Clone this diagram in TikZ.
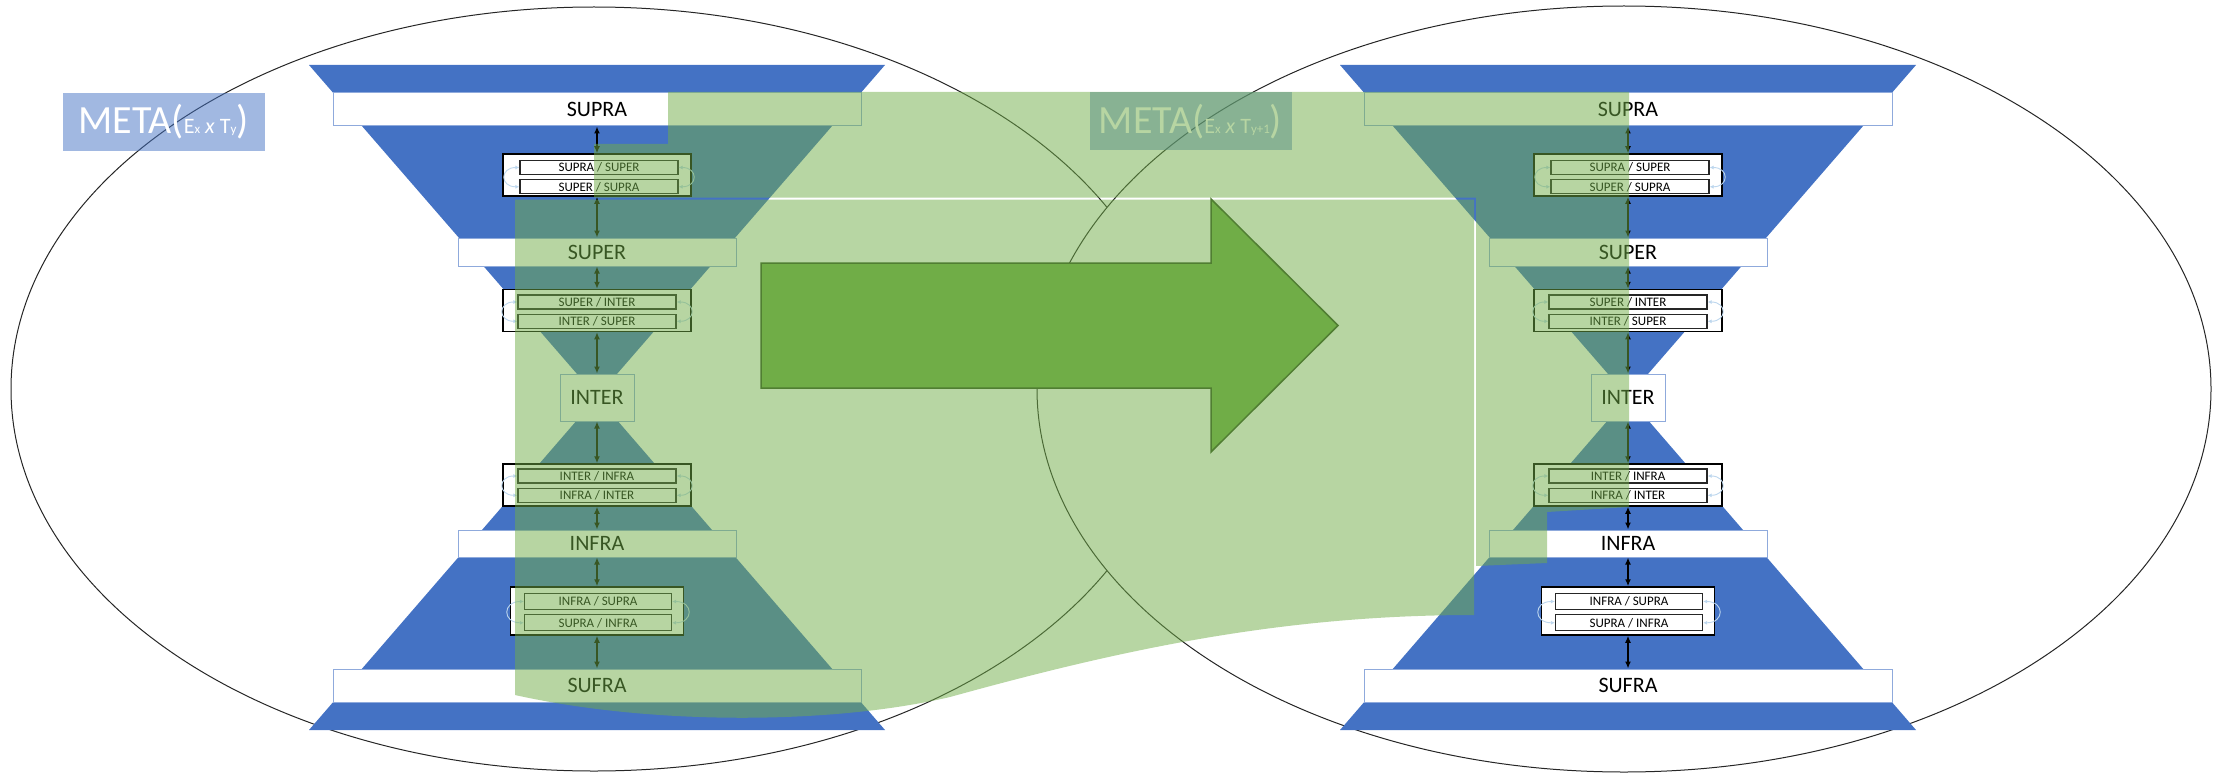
\documentclass[tikz,border=0pt]{standalone}
\usepackage{fontspec}
\setmainfont{Carlito}
\usepackage{tikz}
\usetikzlibrary{arrows.meta, positioning}

\definecolor{layerblue}{HTML}{4472C4}
\definecolor{barline}{HTML}{8FAADC}
\definecolor{metagreen}{HTML}{70AD47}
\definecolor{arrowline}{HTML}{507E32}
\definecolor{swaparc}{HTML}{BDD7EE}

\begin{document}
\begin{tikzpicture}[x=1pt, y=-1pt, >={Latex[length=7pt,width=6pt]}, line width=1.2pt]
    % Define styles locally
    \tikzstyle{bar} = [rectangle, draw=barline, fill=white, line width=1pt, inner sep=0pt, font=\fontsize{22}{24}\selectfont]
    \tikzstyle{iface} = [rectangle, draw=black, fill=white, line width=1.5pt, inner sep=0pt, minimum width=188pt, minimum height=42pt]
    \tikzstyle{row} = [rectangle, draw=black!85, fill=white, line width=1.3pt, inner sep=0pt, minimum width=158pt, minimum height=14pt, font=\fontsize{13}{14}\selectfont]
    \tikzstyle{meta} = [rectangle, fill=layerblue, fill opacity=0.5, text opacity=1, text=white, inner sep=0pt, minimum width=202pt, minimum height=58pt]
    \tikzstyle{link} = [<->, black, line width=1.5pt]
    \tikzstyle{swap} = [{Latex[length=4pt,width=4pt]}-{Latex[length=4pt,width=4pt]}, swaparc, line width=0.9pt]

    \useasboundingbox (0,0) rectangle (2227,773);

    % Ellipses
    \draw[black!85, line width=1pt] (594,389) ellipse [x radius=583, y radius=382];
    \draw[black!85, line width=1pt, fill=white] (1624,389) ellipse [x radius=587, y radius=383];

    % Both layer stacks (E x T_y and E x T_y+1)
    \foreach \s/\dx in {L/0, R/1031} {
    \begin{scope}[xshift=\dx pt]
        % Funnels
        \fill[layerblue] (309,65) -- (885,65) -- (597,397) -- cycle;
        \fill[layerblue] (309,730) -- (885,730) -- (597,397) -- cycle;

        % Layers
        \node[bar, minimum width=528pt, minimum height=33pt] (\s-supra) at (597,109.5) {SUPRA};
        \node[bar, minimum width=278pt, minimum height=28pt] (\s-super) at (597,252) {SUPER};
        \node[bar, minimum width=74pt, minimum height=47pt] (\s-inter) at (597,397.5) {INTER};
        \node[bar, minimum width=278pt, minimum height=27pt] (\s-infra) at (597,543.5) {INFRA};
        \node[bar, minimum width=528pt, minimum height=33pt] (\s-sufra) at (597,685.5) {SUFRA};

        % Interfaces
        \node[iface] (\s-b1) at (597,175) {};
        \node[row] (\s-b1-a) at (599,167.5) {SUPRA / SUPER};
        \node[row, below=4pt of \s-b1-a] (\s-b1-b) {SUPER / SUPRA};
        \node[iface] (\s-b2) at (597,310.5) {};
        \node[row] (\s-b2-a) at (597,302) {SUPER / INTER};
        \node[row, below=4pt of \s-b2-a] (\s-b2-b) {INTER / SUPER};
        \node[iface] (\s-b3) at (597,485) {};
        \node[row] (\s-b3-a) at (597,476) {INTER / INFRA};
        \node[row, below=4pt of \s-b3-a] (\s-b3-b) {INFRA / INTER};
        \node[iface, minimum width=173pt, minimum height=48pt] (\s-b4) at (597,611) {};
        \node[row, minimum width=147pt, minimum height=16pt] (\s-b4-a) at (598,601.5) {INFRA / SUPRA};
        \node[row, minimum width=147pt, minimum height=16pt, below=4pt of \s-b4-a] (\s-b4-b) {SUPRA / INFRA};

        % Links between layers and interfaces
        \foreach \a/\b in {supra/b1, b1/super, super/b2, b2/inter, inter/b3, b3/infra, infra/b4, b4/sufra}
            \draw[link] (\s-\a) -- (\s-\b);

        % Swap arcs
        \foreach \b in {b1, b2, b3, b4} {
            \draw[swap] (\s-\b-a.west) to[out=180, in=180, looseness=2.6] (\s-\b-b.west);
            \draw[swap] (\s-\b-a.east) to[out=0, in=0, looseness=2.6] (\s-\b-b.east);
        }
    \end{scope}
    }

    % META labels
    \node[meta] (L-meta) at (163.5,122) {\fontsize{40}{44}\selectfont META(\fontsize{22}{24}\selectfont E{\fontsize{13}{14}\selectfont x} \textit{x} T{\fontsize{13}{14}\selectfont y}\fontsize{40}{44}\selectfont)};
    \node[meta] (R-meta) at (1190.5,121.5) {\fontsize{40}{44}\selectfont META(\fontsize{22}{24}\selectfont E{\fontsize{13}{14}\selectfont x} \textit{x} T{\fontsize{13}{14}\selectfont y+1}\fontsize{40}{44}\selectfont)};

    % META(E x T_y+1) overlay
    \fill[metagreen, fill opacity=0.5] (668,92) -- (1629,92) -- (1629,507) -- (1547,512) -- (1547,563) -- (1476,566) -- (1476,197.5) -- (594,197.5) -- (594,144) -- (668,144) -- cycle;
    \fill[metagreen, fill opacity=0.5] (515,199.5) -- (1474,199.5) -- (1474,615) .. controls (1280,615) and (1120,650) .. (950,697) .. controls (830,725) and (650,725) .. (515,695) -- cycle;

    % Transition arrow
    \draw[arrowline, fill=metagreen, line width=1.5pt] (761,263) -- (1211,263) -- (1211,199) -- (1338,325.5) -- (1211,452) -- (1211,388) -- (761,388) -- cycle;
\end{tikzpicture}
\end{document}
